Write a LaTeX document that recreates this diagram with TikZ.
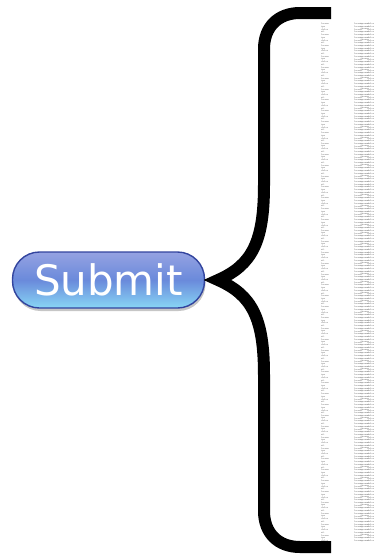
\documentclass[tikz,border=0pt]{standalone}
\usepackage{fontspec}
\newfontfamily\btnfont{DejaVu Sans}
\usetikzlibrary{shadows}
\definecolor{btntop}{HTML}{95A2E2}
\definecolor{btnmid}{HTML}{6A8ADB}
\definecolor{btnbot}{HTML}{88D6F5}
\definecolor{btnedge}{HTML}{32449E}
\definecolor{txtgray}{HTML}{5A5A5A}
\tikzset{
  bracepath/.style={line width=12pt, line join=miter, line cap=butt, black},
  tinytext/.style={font=\fontsize{2.3}{2.3}\selectfont, text=txtgray, inner sep=0pt, anchor=west},
  btn/.style={rounded corners=27pt, draw=btnedge, line width=1.4pt,
    minimum width=192pt, minimum height=56pt, inner sep=0pt,
    top color=btntop, bottom color=btnbot, middle color=btnmid,
    drop shadow={shadow xshift=1pt, shadow yshift=-3pt, opacity=0.45},
    text=white, font=\btnfont\fontsize{42}{42}\selectfont}
}
\begin{document}
\begin{tikzpicture}[x=1pt,y=-1pt]
\useasboundingbox (0,0) rectangle (375,554);
% button
\node[btn] (submit) at (108.5,280) {Submit};
\coordinate (tip) at (218,280);
% brace
\draw[bracepath] (331,13) -- (300,13) .. controls (278,13) and (264,27) .. (264,49)
  -- (264,185) .. controls (264,242) and (252,265) .. (tip)
  .. controls (252,295) and (264,318) .. (264,375)
  -- (264,511) .. controls (264,533) and (278,547) .. (300,547) -- (331,547);
% text columns
\foreach \i in {0,...,190} {
  \pgfmathsetmacro{\yy}{24+\i*2.72}
  \pgfmathtruncatemacro{\k}{mod(\i,4)}
  \ifcase\k
    \node[tinytext] (ca\i) at (321,\yy) {lorem};
  \or
    \node[tinytext] (ca\i) at (321,\yy) {ips};
  \or
    \node[tinytext] (ca\i) at (321,\yy) {dolor};
  \or
    \node[tinytext] (ca\i) at (321,\yy) {sit};
  \fi
  \node[tinytext] (cb\i) at (354,\yy) {lorem};
  \node[tinytext] (cc\i) at (360.5,\yy) {ipsum};
  \node[tinytext] (cd\i) at (367,\yy) {dolor};
}
\end{tikzpicture}
\end{document}
